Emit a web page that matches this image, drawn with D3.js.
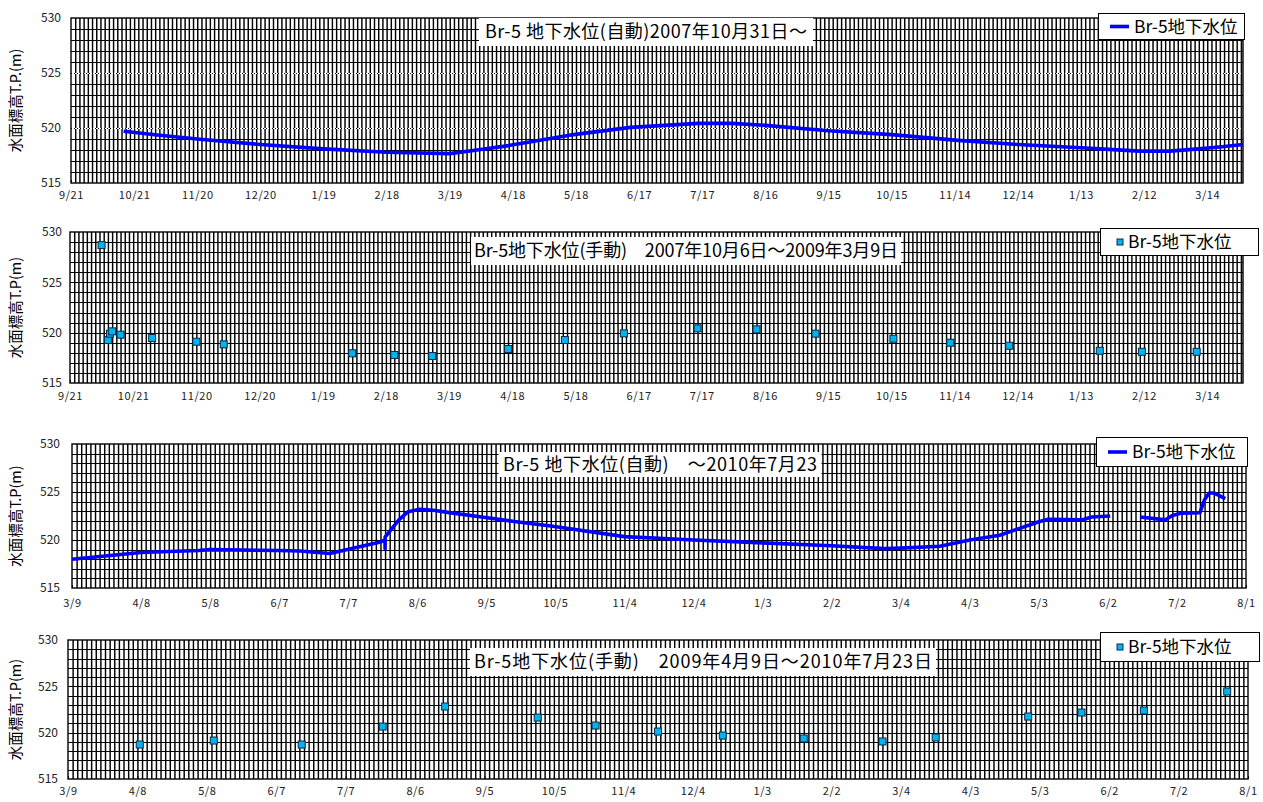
<!DOCTYPE html>
<html><head><meta charset="utf-8">
<script src="https://cdn.jsdelivr.net/npm/d3@7"></script>
<style>
body{margin:0;background:#fff}
svg{display:block}
text{font-family:"Noto Sans CJK JP","Noto Sans",sans-serif}
</style>
</head><body>
<svg id="c" width="1263" height="802"></svg>
<script>
// ---------------- DATA ----------------
const seriesName = "Br-5地下水位";
const yTicks = [515, 520, 525, 530];

// Panel 1: automatic record, 2007-10 .. 2009-03
const p1Dates = ["2007-10-16","2007-11-01","2007-11-20","2007-12-20","2008-01-19","2008-02-18","2008-03-19","2008-04-01","2008-04-16","2008-05-15","2008-06-13","2008-07-15","2008-07-31","2008-08-16","2008-09-15","2008-10-15","2008-11-14","2008-12-14","2009-01-13","2009-01-22","2009-02-10","2009-02-24","2009-03-10","2009-03-21","2009-03-31"];
const p1Values = [519.7,519.37,519.0,518.5,518.1,517.8,517.67,518.0,518.4,519.35,520.06,520.42,520.42,520.24,519.75,519.4,518.9,518.5,518.2,518.1,517.9,517.9,518.1,518.3,518.5];

// Panel 2: manual measurements 2007-10-06 .. 2009-03-09
const p2Dates = ["2007-10-06","2007-10-09","2007-10-10","2007-10-11","2007-10-15","2007-10-30","2007-11-20","2007-12-03","2008-02-02","2008-02-22","2008-03-11","2008-04-16","2008-05-13","2008-06-10","2008-07-15","2008-08-12","2008-09-09","2008-10-16","2008-11-12","2008-12-10","2009-01-22","2009-02-11","2009-03-09"];
const p2Values = [528.7,519.27,519.9,520.13,519.8,519.47,519.1,518.84,517.95,517.78,517.68,518.38,519.27,519.93,520.43,520.33,519.9,519.4,519.0,518.7,518.2,518.1,518.1];

// Panel 3: automatic record 2009-03 .. 2010-07-23 (null = gap)
const p3Dates = ["2009-03-09","2009-04-08","2009-05-03","2009-05-08","2009-06-07","2009-06-16","2009-06-29","2009-07-21","2009-07-23","2009-07-23","2009-07-23","2009-07-29","2009-08-02","2009-08-07","2009-08-13","2009-08-20","2009-09-03","2009-09-18","2009-10-03","2009-11-04","2009-12-04","2010-01-03","2010-02-02","2010-02-25","2010-03-04","2010-03-21","2010-04-03","2010-04-16","2010-05-03","2010-05-07","2010-05-22","2010-05-26","2010-06-03","2010-06-10","2010-06-16","2010-06-27","2010-06-30","2010-07-04","2010-07-12","2010-07-14","2010-07-16","2010-07-18","2010-07-23"];
const p3Values = [518.0,518.7,518.9,519.0,518.9,518.85,518.6,519.8,520.0,519.1,520.3,522.1,522.95,523.2,523.1,522.85,522.4,521.9,521.46,520.35,520.0,519.7,519.4,519.1,519.15,519.35,520.0,520.5,521.9,522.15,522.1,522.4,522.5,null,522.4,522.1,522.55,522.8,522.85,524.2,524.9,524.9,524.3];

// Panel 4: manual measurements 2009-04-09 .. 2010-07-23
const p4Dates = ["2009-04-09","2009-05-11","2009-06-18","2009-07-23","2009-08-19","2009-09-28","2009-10-23","2009-11-19","2009-12-17","2010-01-21","2010-02-24","2010-03-19","2010-04-28","2010-05-21","2010-06-17","2010-07-23"];
const p4Values = [518.72,519.15,518.72,520.66,522.82,521.63,520.77,520.12,519.69,519.37,519.05,519.48,521.74,522.17,522.39,524.44];

// x tick dates (labels m/d)
const ticksA = ["2007-09-21","2007-10-21","2007-11-20","2007-12-20","2008-01-19","2008-02-18","2008-03-19","2008-04-18","2008-05-18","2008-06-17","2008-07-17","2008-08-16","2008-09-15","2008-10-15","2008-11-14","2008-12-14","2009-01-13","2009-02-12","2009-03-14"];
const ticksB = ["2009-03-09","2009-04-08","2009-05-08","2009-06-07","2009-07-07","2009-08-06","2009-09-05","2009-10-05","2009-11-04","2009-12-04","2010-01-03","2010-02-02","2010-03-04","2010-04-03","2010-05-03","2010-06-02","2010-07-02","2010-08-01"];

const titles = [
  "Br-5 地下水位(自動)2007年10月31日～",
  "Br-5地下水位(手動)　2007年10月6日～2009年3月9日",
  "Br-5 地下水位(自動)　～2010年7月23",
  "Br-5地下水位(手動)　2009年4月9日～2010年7月23日"
];
const yTitles = ["水面標高T.P.(m)","水面標高T.P(m)","水面標高T.P(m)","水面標高T.P(m)"];

// ---------------- LAYOUT ----------------
const panels = [
  {dates:p1Dates, values:p1Values, kind:"line", ticks:ticksA, start:"2007-09-21", end:"2009-03-31",
   x0:71, x1:1243, y0:18, y1:183, dotted:true, tickPad:8, yLabX:61,
   tCx:646, tTop:18, tW:334, tH:28, tLen:322, lg:{x:1098,y:13,w:146,h:26}},
  {dates:p2Dates, values:p2Values, kind:"dot", ticks:ticksA, start:"2007-09-21", end:"2009-03-31",
   x0:70, x1:1243, y0:232, y1:383, dotted:false, tickPad:9, yLabX:62,
   tCx:686, tTop:237, tW:430, tH:28, tLen:424, lg:{x:1100,y:228,w:158,h:27}},
  {dates:p3Dates, values:p3Values, kind:"line", ticks:ticksB, start:"2009-03-09", end:"2010-08-01",
   x0:72, x1:1246, y0:444, y1:588, dotted:false, tickPad:11, yLabX:60,
   tCx:660, tTop:452, tW:323, tH:25, tLen:314, lg:{x:1096,y:437,w:151,h:29}},
  {dates:p4Dates, values:p4Values, kind:"dot", ticks:ticksB, start:"2009-03-09", end:"2010-08-01",
   x0:68, x1:1248, y0:640, y1:779, dotted:false, tickPad:8, yLabX:58,
   tCx:703, tTop:648, tW:466, tH:28, tLen:458, lg:{x:1100,y:632,w:159,h:29}}
];

const parse = d3.utcParse("%Y-%m-%d");
const fmt = d3.utcFormat("%-m/%-d");
const svg = d3.select("#c");
const LINE_COLOR = "#0000ff";
const DOT_FILL = "#00b4f0";
const DOT_STROKE = "#0b2a4a";

panels.forEach((p, idx) => {
  const g = svg.append("g");
  const t0 = parse(p.start), t1 = parse(p.end);
  const x = d3.scaleUtc().domain([t0, t1]).range([p.x0, p.x1]);
  const y = d3.scaleLinear().domain([515, 530]).range([p.y1, p.y0]);
  const h = p.y1 - p.y0;

  g.append("rect").attr("x", p.x0).attr("y", p.y0).attr("width", p.x1 - p.x0).attr("height", h).attr("fill", "#fff");

  // vertical grid every 2 days
  const gridDays = d3.utcDay.range(t0, t1).filter((d, i) => i % 2 === 0 && i > 0);
  g.append("g").attr("transform", `translate(0,${p.y1})`)
    .call(d3.axisBottom(x).tickValues(gridDays).tickSize(-h).tickFormat(""))
    .call(a => a.select(".domain").remove())
    .selectAll("line").attr("stroke", "#000").attr("stroke-width", 1.45);

  // horizontal grid every 1 m
  const hv = d3.range(516, 530, 1);
  const hg = g.append("g").attr("transform", `translate(${p.x0},0)`)
    .call(d3.axisLeft(y).tickValues(hv).tickSize(-(p.x1 - p.x0)).tickFormat(""))
    .call(a => a.select(".domain").remove());
  hg.selectAll(".tick line").attr("stroke", "#000").attr("stroke-width", 1).attr("shape-rendering", "crispEdges")
    .attr("stroke-dasharray", d => (p.dotted && d % 5 === 0) ? "1,2" : null);
  if (p.dotted) {
    hg.selectAll(".tick").filter(d => d % 5 === 0).insert("line", "line")
      .attr("x2", p.x1 - p.x0).attr("stroke", "#fff").attr("stroke-width", 1).attr("shape-rendering", "crispEdges");
  }

  // border
  g.append("rect").attr("x", p.x0).attr("y", p.y0).attr("width", p.x1 - p.x0).attr("height", h)
    .attr("fill", "none").attr("stroke", "#000").attr("stroke-width", 1.4);

  // x axis labels + small inner ticks
  const xa = g.append("g").attr("transform", `translate(0,${p.y1})`)
    .call(d3.axisBottom(x).tickValues(p.ticks.map(parse)).tickFormat(fmt).tickSizeInner(-3).tickSizeOuter(0).tickPadding(p.tickPad));
  xa.select(".domain").remove();
  xa.selectAll("line").attr("stroke", "#000");
  xa.selectAll("text").attr("font-size", 11).attr("fill", "#222")
    .style("font-family", '"Noto Sans CJK JP",sans-serif').attr("letter-spacing", 0.6);

  // y axis labels
  const ya = g.append("g").attr("transform", `translate(${p.yLabX},0)`)
    .call(d3.axisLeft(y).tickValues(yTicks).tickSize(0).tickPadding(0));
  ya.select(".domain").remove();
  ya.selectAll("text").attr("font-size", 12).attr("fill", "#222")
    .style("font-family", '"Noto Sans CJK JP",sans-serif');

  // y title
  g.append("text").attr("transform", `translate(16,${(p.y0 + p.y1) / 2}) rotate(-90)`)
    .attr("text-anchor", "middle").attr("dy", "0.35em").attr("font-size", 14.5).attr("fill", "#000")
    .text(yTitles[idx]);

  // data
  const pts = p.dates.map((d, i) => ({t: parse(d), v: p.values[i]}));
  if (p.kind === "line") {
    const line = d3.line().defined(d => d.v !== null).x(d => x(d.t)).y(d => y(d.v));
    g.append("path").datum(pts).attr("d", line).attr("fill", "none")
      .attr("stroke", LINE_COLOR).attr("stroke-width", 3.6).attr("stroke-linejoin", "round");
  } else {
    const s = 7;
    g.selectAll("rect.pt").data(pts).join("rect").attr("class", "pt")
      .attr("x", d => x(d.t) - s / 2).attr("y", d => y(d.v) - s / 2)
      .attr("width", s).attr("height", s)
      .attr("fill", DOT_FILL).attr("stroke", DOT_STROKE).attr("stroke-width", 1);
  }

  // title box
  g.append("rect").attr("x", p.tCx - p.tW / 2).attr("y", p.tTop).attr("width", p.tW).attr("height", p.tH).attr("fill", "#fff");
  g.append("text").attr("x", p.tCx).attr("y", p.tTop + p.tH / 2).attr("dy", "0.36em")
    .attr("text-anchor", "middle").attr("font-size", 18).attr("fill", "#000")
    .attr("textLength", p.tLen).attr("lengthAdjust", "spacing").text(titles[idx]);

  // legend
  const L = p.lg;
  g.append("rect").attr("x", L.x + 0.5).attr("y", L.y + 0.5).attr("width", L.w).attr("height", L.h)
    .attr("fill", "#fff").attr("stroke", "#000").attr("stroke-width", 1);
  const cy = L.y + L.h / 2 + 0.5;
  if (p.kind === "line") {
    g.append("line").attr("x1", L.x + 12).attr("x2", L.x + 31).attr("y1", cy).attr("y2", cy)
      .attr("stroke", LINE_COLOR).attr("stroke-width", 3.6);
  } else {
    g.append("rect").attr("x", L.x + 17).attr("y", cy - 3).attr("width", 6).attr("height", 6)
      .attr("fill", DOT_FILL).attr("stroke", DOT_STROKE).attr("stroke-width", 1);
  }
  g.append("text").attr("x", L.x + (p.kind === "line" ? 36 : 28)).attr("y", cy).attr("dy", "0.36em")
    .attr("font-size", 17.5).attr("fill", "#000").text(seriesName);
});
</script>
</body></html>
